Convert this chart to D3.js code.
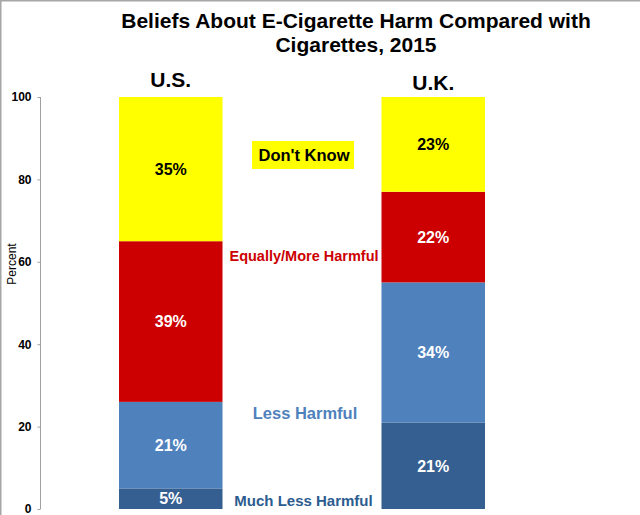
<!DOCTYPE html>
<html>
<head>
<meta charset="utf-8">
<script src="https://cdn.jsdelivr.net/npm/d3@7"></script>
<style>
  html, body { margin: 0; padding: 0; background: #fff; }
  svg { display: block; font-family: Arial, "Liberation Sans", sans-serif; }
</style>
</head>
<body>
<svg id="chart" width="640" height="515"></svg>
<script>
const categories = ["U.S.", "U.K."];
const seriesNames = ["Much Less Harmful", "Less Harmful", "Equally/More Harmful", "Don't Know"];
const muchLessHarmful = [5, 21];
const lessHarmful = [21, 34];
const equallyMoreHarmful = [39, 22];
const dontKnow = [35, 23];
const yTicks = [0, 20, 40, 60, 80, 100];
const titleLines = ["Beliefs About E-Cigarette Harm Compared with", "Cigarettes, 2015"];

const seriesValues = [muchLessHarmful, lessHarmful, equallyMoreHarmful, dontKnow];
const colors = ["#365F91", "#4F81BD", "#CC0000", "#FFFF00"];
const labelColors = ["#2C5C8F", "#4F81BD", "#CC0000", "#000000"];

const table = categories.map((c, i) => {
  const row = { category: c };
  seriesNames.forEach((s, j) => row[s] = seriesValues[j][i]);
  return row;
});

const svg = d3.select("#chart");

// frame (top/left border)
svg.append("line").attr("x1", 0).attr("x2", 640).attr("y1", 0.5).attr("y2", 0.5)
  .attr("stroke", "#a6a6a6").attr("stroke-width", 2);
svg.append("line").attr("x1", 0.5).attr("x2", 0.5).attr("y1", 0).attr("y2", 515)
  .attr("stroke", "#a6a6a6").attr("stroke-width", 2);

const y = d3.scaleLinear().domain([0, 100]).range([509, 97]);
const x = d3.scaleBand().domain(categories).range([40.25, 563.75])
  .paddingInner(0.6057).paddingOuter(0.3);

const stack = d3.stack().keys(seriesNames);
const stacked = stack(table);

// bars
const layers = svg.append("g").selectAll("g").data(stacked).join("g")
  .attr("fill", (d, i) => colors[i]);
layers.selectAll("rect").data(d => d).join("rect")
  .attr("x", d => x(d.data.category))
  .attr("width", x.bandwidth())
  .attr("y", d => y(d[1]))
  .attr("height", d => y(d[0]) - y(d[1]));

// value labels
stacked.forEach((layer, i) => {
  svg.append("g").selectAll("text").data(layer).join("text")
    .attr("x", d => x(d.data.category) + x.bandwidth() / 2)
    .attr("y", d => (y(d[0]) + y(d[1])) / 2)
    .attr("dy", "0.36em")
    .attr("text-anchor", "middle")
    .attr("fill", i === 3 ? "#000" : "#fff")
    .attr("font-weight", "bold")
    .attr("font-size", 16)
    .text(d => (d[1] - d[0]) + "%");
});

// y axis
const axis = d3.axisLeft(y).tickValues(yTicks).tickSize(3).tickPadding(6);
const gA = svg.append("g").attr("transform", "translate(40.5,0)").call(axis);
gA.select(".domain").attr("stroke", "#a0a0a0").attr("d", "M0," + y(100) + "V" + y(0));
gA.selectAll(".tick line").attr("stroke", "#a0a0a0");
gA.selectAll(".tick text").attr("font-size", 12).attr("font-weight", "bold")
  .attr("fill", "#000").attr("font-family", "Arial, 'Liberation Sans', sans-serif");

svg.append("text")
  .attr("transform", "translate(16," + 264 + ") rotate(-90)")
  .attr("text-anchor", "middle")
  .attr("font-size", 12)
  .attr("fill", "#000")
  .text("Percent");

// title
svg.append("g").selectAll("text").data(titleLines).join("text")
  .attr("x", 356).attr("y", (d, i) => 28 + i * 24)
  .attr("text-anchor", "middle")
  .attr("font-size", 21).attr("font-weight", "bold").attr("fill", "#000")
  .text(d => d);

// category headers
svg.append("g").selectAll("text").data(categories).join("text")
  .attr("x", d => x(d) + x.bandwidth() / 2)
  .attr("y", (d, i) => i === 0 ? 87 : 90)
  .attr("text-anchor", "middle")
  .attr("font-size", 21).attr("font-weight", "bold").attr("fill", "#000")
  .text(d => d);

// series annotations
const annX = [303.5, 305, 304, 304];
const annY = [506, 419, 261, 161];
const annSize = [15, 16.5, 14.5, 16.5];
seriesNames.forEach((s, i) => {
  if (i === 3) {
    svg.append("rect").attr("x", 252).attr("y", 141).attr("width", 102).attr("height", 28)
      .attr("fill", colors[3]);
  }
  svg.append("text")
    .attr("x", annX[i])
    .attr("y", annY[i])
    .attr("text-anchor", "middle")
    .attr("font-size", annSize[i]).attr("font-weight", "bold")
    .attr("fill", labelColors[i])
    .text(s);
});
</script>
</body>
</html>
